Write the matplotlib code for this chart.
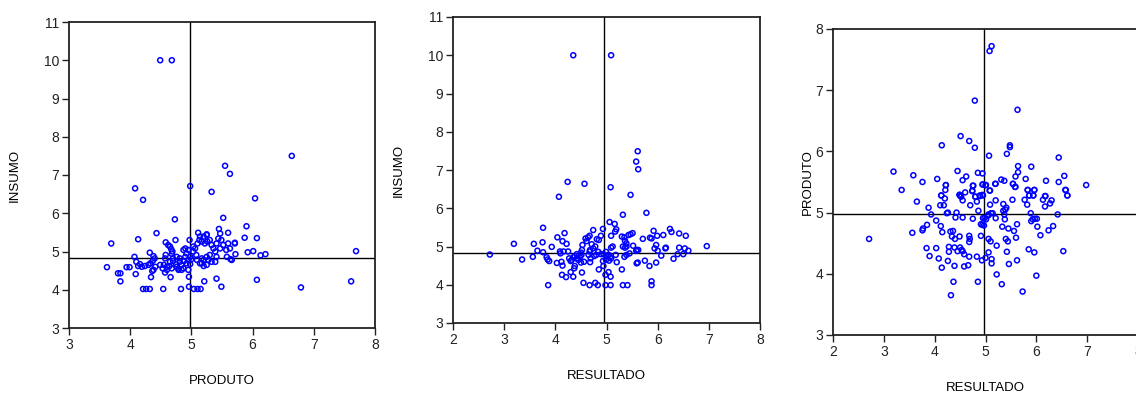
import matplotlib.pyplot as plt

plt.rcParams["font.family"] = ["Liberation Sans", "DejaVu Sans"]

# painel 1: PRODUTO x INSUMO
p1_produto = [4.49, 4.68, 6.64, 5.55, 5.63, 4.08, 4.98, 5.33, 6.04, 4.21,
              5.52, 4.73, 5.90, 4.43, 4.13, 3.69, 6.07, 5.87, 7.69, 6.21,
              6.13, 6.01, 5.92, 5.72, 5.71, 5.64, 3.62, 3.80, 3.84, 3.84,
              3.94, 3.99, 4.09, 4.07, 4.34, 4.21, 4.26, 4.32, 4.54, 4.83,
              4.96, 4.96, 5.04, 5.10, 5.15, 5.21, 5.41, 5.49, 6.07, 6.79,
              7.61, 4.66, 4.57,
              4.74, 4.58, 4.62, 4.65, 4.67, 4.69, 4.68, 4.58, 4.57,
              4.32, 4.38, 4.40, 4.37, 4.33, 4.30, 4.24, 4.19, 4.16, 4.13,
              4.41, 4.38, 4.36, 4.10,
              4.49, 4.53, 4.55, 4.60, 4.64, 4.68, 4.70, 4.75, 4.76, 4.79,
              4.81, 4.84, 4.87, 4.88, 4.90, 4.87, 4.90, 4.92, 4.95, 4.98,
              4.92, 4.95, 4.98, 5.00, 5.03, 5.06, 5.08, 5.09, 5.03, 5.10,
              5.13, 5.17, 5.14, 5.20, 5.22, 5.25, 5.26, 5.30, 5.33, 5.36,
              5.39, 5.41, 5.44, 5.47, 5.49, 5.52, 5.47, 5.57, 5.60, 5.63,
              5.71, 5.66, 5.58, 5.41, 5.30, 5.25, 5.20, 5.14, 5.17, 5.28,
              5.33, 5.39, 5.25, 5.20, 4.81, 4.76, 4.70, 4.65, 4.79, 4.84,
              4.60, 4.95, 5.17,
              4.97, 5.11, 5.25, 5.45, 5.60]
p1_insumo = [10.0, 10.0, 7.50, 7.24, 7.03, 6.65, 6.71, 6.56, 6.39, 6.35,
             5.88, 5.84, 5.66, 5.48, 5.32, 5.21, 5.35, 5.36, 5.01, 4.93,
             4.90, 5.01, 4.98, 4.93, 5.23, 4.80, 4.59, 4.43, 4.43, 4.22,
             4.59, 4.59, 4.41, 4.86, 4.33, 4.02, 4.02, 4.02, 4.02, 4.02,
             4.34, 4.08, 4.02, 4.02, 4.02, 4.22, 4.29, 4.08, 4.26, 4.06,
             4.22, 4.33, 4.45,
             5.30, 5.24, 5.17, 5.13, 5.06, 5.00, 4.94, 4.91, 4.82,
             4.97, 4.88, 4.82, 4.76, 4.69, 4.65, 4.62, 4.60, 4.67, 4.62,
             4.60, 4.52, 4.49, 4.73,
             4.65, 4.56, 4.65, 4.60, 4.62, 4.56, 4.75, 4.67, 4.60, 4.55,
             4.73, 4.65, 4.56, 4.75, 4.86, 5.04, 5.08, 4.95, 5.04, 4.86,
             4.69, 4.78, 4.67, 4.80, 5.00, 5.08, 4.91, 4.78, 5.13, 5.21,
             5.30, 5.26, 5.39, 5.39, 5.21, 5.43, 5.26, 5.30, 5.17, 5.08,
             5.00, 5.21, 5.34, 5.47, 5.30, 5.17, 5.08, 5.04, 5.21, 5.08,
             5.21, 4.78, 4.86, 4.86, 4.91, 4.86, 4.78, 4.69, 4.82, 4.78,
             4.73, 4.73, 4.65, 4.62, 4.82, 4.86, 4.82, 4.73, 4.52, 4.52,
             4.52, 4.52, 4.69,
             5.30, 5.49, 5.45, 5.59, 5.49]

# painel 2: RESULTADO x INSUMO
p2_resultado = [4.35, 5.09, 5.61, 5.58, 5.62, 4.24, 4.57, 5.08, 5.47, 4.07,
                5.32, 5.78, 5.06, 5.16, 5.19, 5.17, 3.76, 4.74, 4.93, 4.18,
                5.92, 6.24, 6.27, 6.42, 6.55, 6.11, 5.99, 5.71, 5.85, 5.88,
                3.19, 3.58, 3.75, 4.04, 4.14, 4.22, 3.93, 3.65, 3.76, 2.72,
                3.35, 3.56, 3.83, 3.85, 3.88, 4.03, 4.12, 4.14, 4.13, 4.21,
                3.86, 4.35, 4.30, 4.37, 4.38, 4.52, 4.55, 4.67, 4.78, 4.83,
                4.98, 5.08, 5.32, 5.41, 5.88, 5.88, 4.98, 5.04, 5.08, 4.85,
                5.30, 4.68, 4.93, 4.94, 5.59, 5.61, 5.75, 5.84, 5.97, 6.31,
                6.07, 6.39, 6.50, 6.60, 6.53, 6.42, 6.96, 6.15, 6.16, 5.94,
                5.97, 6.00, 5.58, 5.59, 5.62, 5.52, 5.39, 5.36, 5.43, 5.51,
                5.47, 5.30, 5.35, 5.32, 5.36, 5.39, 5.45, 5.39, 5.35, 5.09,
                5.12, 5.09, 4.99, 5.04, 5.07, 4.99, 5.05, 5.09, 5.00, 4.94,
                5.18, 5.20, 4.84, 4.89, 4.80, 4.76, 4.65, 4.67, 4.69, 4.68,
                4.71, 4.74, 4.78, 4.81, 4.85, 4.89, 4.61, 4.59, 4.64, 4.67,
                4.53, 4.52, 4.50, 4.38, 4.42, 4.45, 4.48, 4.51, 4.42, 4.35,
                4.32, 4.27, 4.25, 4.30, 4.09, 4.10, 4.16, 4.50, 4.56]
p2_insumo = [10.0, 10.0, 7.49, 7.22, 7.02, 6.69, 6.64, 6.55, 6.35, 6.30,
             5.83, 5.88, 5.64, 5.59, 5.45, 5.39, 5.49, 5.43, 5.46, 5.35,
             5.41, 5.46, 5.38, 5.34, 5.28, 5.30, 5.28, 5.20, 5.23, 5.21,
             5.07, 5.07, 5.11, 5.24, 5.14, 5.07, 4.99, 4.89, 4.85, 4.79,
             4.66, 4.73, 4.72, 4.66, 4.62, 4.57, 4.60, 4.50, 4.26, 4.20,
             3.99, 4.21, 4.33, 4.43, 4.49, 4.32, 4.05, 3.99, 4.05, 3.99,
             3.99, 3.99, 3.99, 3.99, 4.09, 3.99, 4.26, 4.33, 4.21, 4.40,
             4.40, 4.59, 4.62, 4.49, 4.56, 4.58, 4.63, 4.49, 4.58, 4.68,
             4.76, 4.80, 4.80, 4.89, 4.95, 4.97, 5.01, 4.95, 4.97, 4.95,
             5.04, 4.89, 4.89, 4.91, 4.91, 5.02, 5.08, 5.15, 5.30, 5.35,
             5.32, 5.26, 5.24, 5.00, 4.97, 5.00, 4.82, 4.78, 4.73, 4.97,
             5.00, 5.28, 4.86, 4.78, 4.73, 4.65, 4.63, 4.69, 4.75, 4.80,
             4.78, 4.59, 4.86, 4.80, 4.78, 4.75, 4.78, 4.87, 4.69, 4.91,
             5.06, 4.95, 5.00, 5.19, 5.17, 5.28, 5.14, 5.21, 5.24, 5.28,
             5.04, 4.91, 4.84, 4.75, 4.69, 4.65, 4.72, 4.78, 4.80, 4.72,
             4.65, 4.69, 4.87, 4.62, 4.87, 4.82, 4.87, 4.58, 4.60]

# painel 3: RESULTADO x PRODUTO
p3_resultado = [5.12, 5.08, 4.79, 5.63, 4.51, 4.68, 4.79, 4.14, 5.48, 5.48,
                5.07, 5.42, 6.44, 3.19, 3.58, 3.76, 3.35, 4.05, 4.22, 4.21,
                4.13, 4.45, 4.55, 4.62, 4.75, 4.74, 4.85, 4.94, 4.95, 5.01,
                5.09, 5.20, 5.31, 5.37, 5.54, 5.59, 5.59, 5.64, 5.64, 5.79,
                5.90, 5.83, 5.96, 6.19, 6.44, 6.55, 6.57, 6.61, 6.98, 4.49,
                4.52, 4.80, 4.89, 4.94, 5.86, 5.94, 6.18,
                2.71, 3.65, 3.88, 3.93, 4.03, 3.56, 3.76, 3.77, 3.85, 3.84,
                3.90, 4.03, 4.08, 4.14, 4.26, 4.28, 4.28, 4.12, 4.15, 4.11,
                4.18, 4.26, 4.24, 4.13, 4.20, 4.22, 4.31, 4.36, 4.34, 4.40,
                4.39, 4.45, 4.50, 4.53, 4.55, 4.58, 4.39, 4.37, 4.32, 4.49,
                4.41, 4.43, 4.55, 4.49, 4.51, 4.55, 4.60, 4.58, 4.66, 4.68,
                4.68, 4.69, 4.68, 4.70, 4.75, 4.76, 4.74, 4.80, 4.83, 4.86,
                4.83, 4.85, 4.89, 4.95, 4.91, 4.91, 4.94, 4.97, 4.93, 4.95,
                4.98, 5.01, 5.05, 5.06, 5.00, 4.94, 5.00, 5.08, 5.09, 5.06,
                5.10, 5.06, 5.12, 5.12, 5.11, 5.14, 5.19, 5.20, 5.20, 5.22,
                5.22, 5.32, 5.33, 5.35, 5.35, 5.37, 5.38, 5.39, 5.41, 5.40,
                5.44, 5.42, 5.45, 5.46, 5.53, 5.54, 5.58, 5.56, 5.60, 5.62,
                5.62, 5.73, 5.77, 5.82, 5.83, 5.86, 5.85, 5.89, 5.90, 5.93,
                5.94, 5.96, 5.96, 5.97, 6.01, 6.02, 6.00, 6.08, 6.13, 6.17,
                6.17, 6.24, 6.27, 6.30, 6.33, 6.42, 6.53, 6.58, 6.61]
p3_produto = [7.72, 7.64, 6.83, 6.68, 6.25, 6.17, 6.06, 6.10, 6.10, 6.07,
              5.93, 5.96, 5.90, 5.67, 5.61, 5.50, 5.37, 5.55, 5.45, 5.37,
              5.28, 5.68, 5.53, 5.59, 5.44, 5.35, 5.65, 5.64, 5.46, 5.45,
              5.36, 5.47, 5.54, 5.52, 5.47, 5.42, 5.59, 5.66, 5.76, 5.55,
              5.75, 5.37, 5.37, 5.52, 5.50, 5.60, 5.37, 5.28, 5.45, 5.29,
              5.26, 5.26, 5.28, 5.29, 5.28, 5.28, 5.27,
              4.57, 5.18, 5.08, 4.97, 4.87, 4.67, 4.71, 4.74, 4.80, 4.42,
              4.29, 4.42, 4.25, 4.10, 4.21, 4.44, 4.36, 4.78, 4.68, 5.12,
              5.12, 5.00, 4.99, 5.28, 5.23, 5.45, 4.69, 4.70, 4.61, 4.57,
              4.43, 4.37, 4.43, 4.39, 4.37, 4.32, 4.13, 3.87, 3.65, 4.61,
              4.92, 5.00, 4.92, 5.29, 5.27, 5.20, 5.33, 4.12, 4.14, 4.28,
              4.62, 4.57, 4.52, 5.12, 4.90, 5.44, 5.36, 5.26, 5.18, 5.03,
              4.28, 3.87, 5.27, 5.28, 4.62, 4.81, 4.80, 4.79, 4.22, 4.91,
              4.91, 4.89, 4.95, 4.97, 4.26, 5.46, 5.45, 5.36, 5.13, 4.57,
              4.53, 4.35, 4.24, 4.17, 4.99, 4.99, 5.47, 5.20, 4.91, 4.46,
              3.99, 3.83, 4.77, 5.14, 5.03, 4.97, 4.89, 5.05, 5.08, 4.57,
              4.53, 4.36, 4.74, 4.16, 5.21, 5.47, 5.42, 4.70, 4.59, 4.81,
              4.22, 3.71, 5.21, 5.13, 5.37, 5.28, 4.40, 4.99, 4.86, 4.89,
              5.28, 4.35, 5.37, 4.90, 4.90, 4.77, 3.97, 4.63, 5.21, 5.27,
              5.10, 4.71, 5.15, 5.20, 4.78, 4.97, 4.37, 5.37, 5.28]

# medias (linhas de referencia)
p1_mean_x, p1_mean_y = 4.97, 4.84
p2_mean_x, p2_mean_y = 4.96, 4.84
p3_mean_x, p3_mean_y = 4.965, 4.98

W, H = 1136, 394
fig = plt.figure(figsize=(W / 100, H / 100), dpi=100)


def painel(rect, x, y, mx, my, xlim, ylim, xlab, ylab, ylab_x):
    ax = fig.add_axes(rect)
    ax.scatter(x, y, s=13, facecolors="none", edgecolors="#0000ff",
               linewidths=1.1, zorder=3)
    ax.axvline(mx, color="black", lw=1.0, zorder=2)
    ax.axhline(my, color="black", lw=1.0, zorder=2)
    ax.set_xlim(*xlim)
    ax.set_ylim(*ylim)
    ax.set_xticks(range(xlim[0], xlim[1] + 1))
    ax.set_yticks(range(ylim[0], ylim[1] + 1))
    ax.tick_params(direction="out", length=5, width=1, labelsize=10,
                   colors="#222222", pad=2)
    for s in ax.spines.values():
        s.set_linewidth(1.3)
        s.set_color("#222222")
    ax.set_xlabel(xlab, fontsize=9.5)
    ax.set_ylabel(ylab, fontsize=9.5)
    ax.xaxis.set_label_coords(0.5, -0.153)
    ax.yaxis.set_label_coords(ylab_x, 0.5)
    return ax


painel([69 / W, 1 - 328 / H, 306 / W, 306 / H], p1_produto, p1_insumo,
       p1_mean_x, p1_mean_y, (3, 8), (3, 11), "PRODUTO", "INSUMO", -0.157)
painel([453 / W, 1 - 323 / H, 307 / W, 306 / H], p2_resultado, p2_insumo,
       p2_mean_x, p2_mean_y, (2, 8), (3, 11), "RESULTADO", "INSUMO", -0.156)
painel([833 / W, 1 - 335 / H, 305 / W, 306 / H], p3_resultado, p3_produto,
       p3_mean_x, p3_mean_y, (2, 8), (3, 8), "RESULTADO", "PRODUTO", -0.064)

fig.savefig("out.png", dpi=100)
